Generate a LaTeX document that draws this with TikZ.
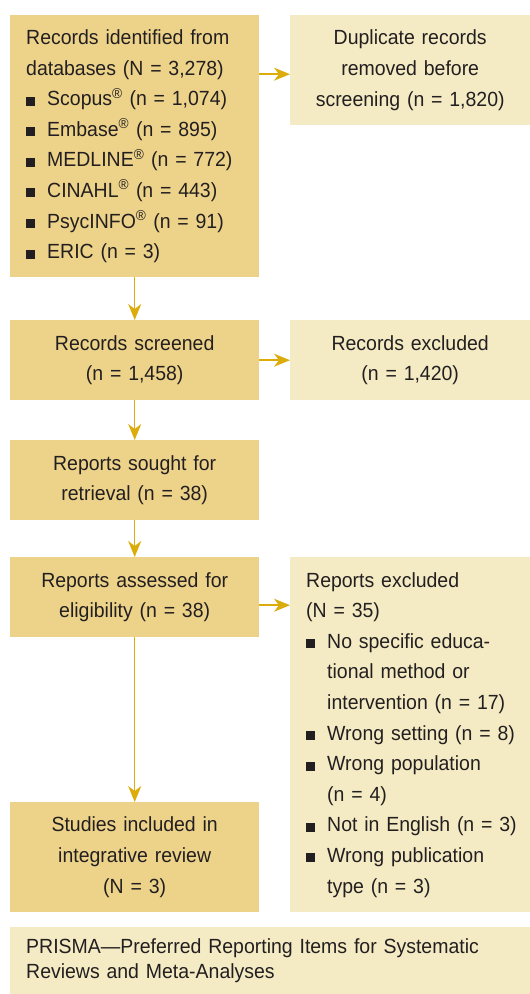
\documentclass[tikz,border=0pt]{standalone}
\usepackage{fontspec}
\setmainfont{Liberation Sans}[FakeStretch=0.95]
\usetikzlibrary{arrows.meta,calc}

\definecolor{boxdark}{RGB}{237,211,138}
\definecolor{boxlight}{RGB}{244,235,196}
\definecolor{arrowgold}{RGB}{219,172,10}
\definecolor{inkgray}{RGB}{35,31,32}

\newcommand{\sqbul}[1]{\mbox{\makebox[21pt][l]{\rule{9pt}{9pt}}#1}}
\newcommand{\sqind}[1]{\mbox{\hspace*{21pt}#1}}

\tikzset{
  stage/.style={fill=boxdark, text=inkgray, anchor=north west, inner xsep=16pt, inner ysep=0pt,
    font=\fontsize{20.5}{30.6}\selectfont},
  side/.style={stage, fill=boxlight},
  flow/.style={draw=arrowgold, line width=1.5pt, -{Stealth[length=16pt,width=13pt,inset=5pt]}}
}

\begin{document}
\begin{tikzpicture}
    \useasboundingbox (0,0) rectangle (530pt,-994pt);
    % left column
    \node [stage, text width=217pt, minimum height=262pt, align=left] (ident) at (10pt,-15pt)
      {Records identified from\\ databases (N = 3,278)\\
       \sqbul{Scopus\textsuperscript{®} (n = 1,074)}\\
       \sqbul{Embase\textsuperscript{®} (n = 895)}\\
       \sqbul{MEDLINE\textsuperscript{®} (n = 772)}\\
       \sqbul{CINAHL\textsuperscript{®} (n = 443)}\\
       \sqbul{PsycINFO\textsuperscript{®} (n = 91)}\\
       \sqbul{ERIC (n = 3)}};
    \node [stage, text width=217pt, minimum height=80pt, align=center] (screened) at (10pt,-320pt)
      {Records screened\\ (n = 1,458)};
    \node [stage, text width=217pt, minimum height=80pt, align=center] (sought) at (10pt,-440pt)
      {Reports sought for\\ retrieval (n = 38)};
    \node [stage, text width=217pt, minimum height=80pt, align=center] (assessed) at (10pt,-557pt)
      {Reports assessed for\\ eligibility (n = 38)};
    \node [stage, text width=217pt, minimum height=110pt, align=center] (studies) at (10pt,-802pt)
      {Studies included in\\ integrative review\\ (N = 3)};
    % right column
    \node [side, text width=208pt, minimum height=110pt, align=center] (dup) at (290pt,-15pt)
      {Duplicate records\\ removed before\\ screening (n = 1,820)};
    \node [side, text width=208pt, minimum height=80pt, align=center] (recexcl) at (290pt,-320pt)
      {Records excluded\\ (n = 1,420)};
    \node [side, text width=208pt, minimum height=355pt, align=left] (repexcl) at (290pt,-557pt)
      {Reports excluded\\ (N = 35)\\
       \sqbul{No specific educa-}\\ \sqind{tional method or}\\ \sqind{intervention (n = 17)}\\
       \sqbul{Wrong setting (n = 8)}\\
       \sqbul{Wrong population}\\ \sqind{(n = 4)}\\
       \sqbul{Not in English (n = 3)}\\
       \sqbul{Wrong publication}\\ \sqind{type (n = 3)}};
    % footnote
    \node [side, text width=488pt, minimum height=67pt, align=left,
      font=\fontsize{20.5}{25}\selectfont] (prisma) at (10pt,-927pt)
      {PRISMA—Preferred Reporting Items for Systematic\\ Reviews and Meta-Analyses};
    % arrows
    \draw [flow] (ident.south) -- (screened.north);
    \draw [flow] (screened.south) -- (sought.north);
    \draw [flow] (sought.south) -- (assessed.north);
    \draw [flow] (assessed.south) -- (studies.north);
    \draw [flow] ($(dup.west -| ident.east)+(0,-4pt)$) -- ($(dup.west)+(0,-4pt)$);
    \draw [flow] (screened.east) -- (recexcl.west |- screened.east);
    \draw [flow] ($(assessed.east)+(0,-8pt)$) -- ($(assessed.east -| repexcl.west)+(0,-8pt)$);
\end{tikzpicture}
\end{document}
